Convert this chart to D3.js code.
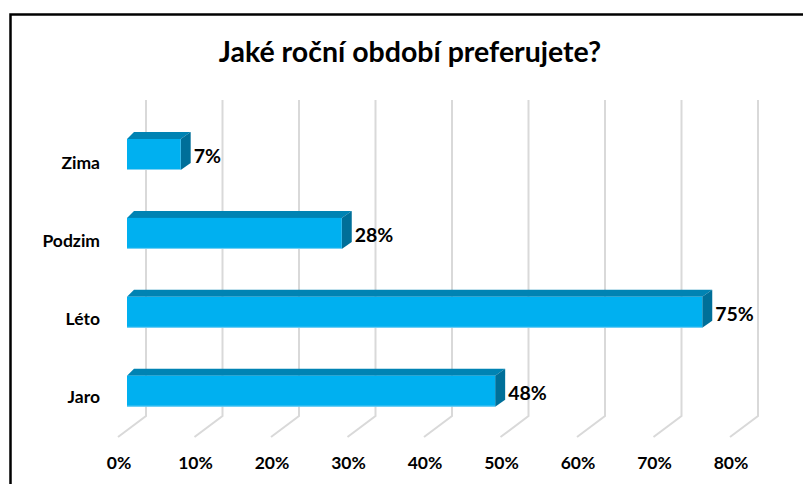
<!DOCTYPE html>
<html>
<head>
<meta charset="utf-8">
<script src="https://cdn.jsdelivr.net/npm/d3@7"></script>
<style>
  html, body { margin: 0; padding: 0; background: #fff; }
  svg { display: block; }
  text { font-family: Lato, "Open Sans", sans-serif; font-weight: bold; fill: #000; }
</style>
</head>
<body>
<svg id="chart" width="803" height="484"></svg>
<script>
const title = "Jaké roční období preferujete?";
const categories = ["Zima", "Podzim", "Léto", "Jaro"];
const values = [7, 28, 75, 48];
const ticks = [0, 10, 20, 30, 40, 50, 60, 70, 80];

const svg = d3.select("#chart");
const W = 803, H = 484;

// frame
svg.append("path")
  .attr("d", `M10.5,${H} L10.5,14.5 L${W},14.5`)
  .attr("fill", "none").attr("stroke", "#000").attr("stroke-width", 2.5);

// title
svg.append("text")
  .attr("x", 410).attr("y", 52).attr("dy", "0.35em")
  .attr("text-anchor", "middle").style("font-size", "28.5px")
  .text(title);

// scales
const depthX = 28, depthY = 21;          // floor depth
const xBack = d3.scaleLinear().domain([0, 80]).range([146, 758]);
const xFront = d3.scaleLinear().domain([0, 80]).range([146 - depthX, 758 - depthX]);
const xBar = d3.scaleLinear().domain([0, 80]).range([127, 740.6]);
const yBar = d3.scalePoint().domain(categories).range([139, 375.7]);
const yLab = d3.scalePoint().domain(categories).range([163, 396.7]);
const barH = 31;
const wallTop = 100, wallBottom = 416;

// gridlines (back wall + floor)
const grid = svg.append("g").attr("fill", "none").attr("stroke", "#d9d9d9").attr("stroke-width", 2);
grid.selectAll("path").data(ticks).join("path")
  .attr("d", t => `M${xBack(t)},${wallTop} L${xBack(t)},${wallBottom} L${xFront(t)},${wallBottom + depthY}`);

// tick labels
svg.append("g").selectAll("text").data(ticks).join("text")
  .attr("x", t => xFront(t) + 1).attr("y", 463).attr("dy", "0.35em")
  .attr("text-anchor", "middle").style("font-size", "17.5px")
  .text(t => t + "%");

// category labels
svg.append("g").selectAll("text").data(categories).join("text")
  .attr("x", 100).attr("y", c => yLab(c)).attr("dy", "0.35em")
  .attr("text-anchor", "end").style("font-size", "17.5px")
  .text(c => c);

// 3D bars
const dL = 7, dR = 10, dY = 7;
const bars = svg.append("g").selectAll("g").data(categories.map((c, i) => ({c, v: values[i]}))).join("g");
bars.append("path") // top face
  .attr("fill", "#0083B3")
  .attr("d", d => {
    const x0 = xBar(0), x1 = xBar(d.v), y = yBar(d.c);
    return `M${x0},${y} L${x0 + dL},${y - dY} L${x1 + dR},${y - dY} L${x1},${y} Z`;
  });
bars.append("path") // side face
  .attr("fill", "#006F99")
  .attr("d", d => {
    const x1 = xBar(d.v), y = yBar(d.c);
    return `M${x1},${y} L${x1 + dR},${y - dY} L${x1 + dR},${y + barH - dY} L${x1},${y + barH} Z`;
  });
bars.append("rect") // front face
  .attr("fill", "#00B0F0")
  .attr("x", xBar(0)).attr("y", d => yBar(d.c))
  .attr("width", d => xBar(d.v) - xBar(0)).attr("height", barH);
bars.append("line") // light bottom edge
  .attr("stroke", "#7fd3f5").attr("stroke-width", 1)
  .attr("x1", xBar(0)).attr("x2", d => xBar(d.v))
  .attr("y1", d => yBar(d.c) + barH - 0.5).attr("y2", d => yBar(d.c) + barH - 0.5);

// data labels
bars.append("text")
  .attr("x", d => xBar(d.v) + dR + 3).attr("y", d => yBar(d.c) + barH / 2 + 1.5).attr("dy", "0.35em")
  .style("font-size", "19.5px")
  .text(d => d.v + "%");
</script>
</body>
</html>
